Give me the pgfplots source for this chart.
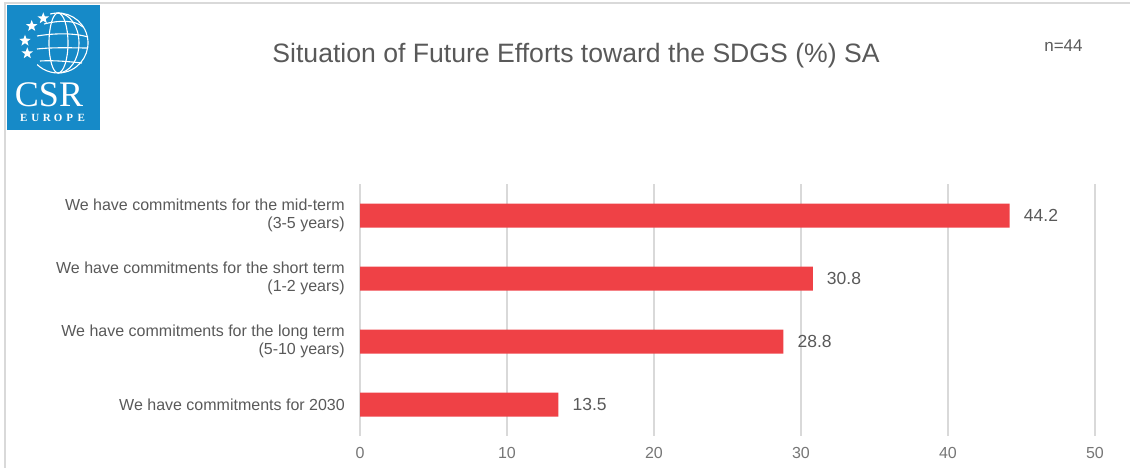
\documentclass[border=0pt]{standalone}
\usepackage{pgfplots}
\pgfplotsset{compat=1.18}
\usetikzlibrary{shapes.geometric}
\usepackage{fontspec}
\setmainfont{Liberation Sans}
\newfontfamily\serifcsr{Liberation Serif}
\definecolor{barred}{RGB}{239,65,70}
\definecolor{txt}{RGB}{89,89,89}
\definecolor{ticktxt}{RGB}{118,118,118}
\definecolor{gridc}{RGB}{217,217,217}
\definecolor{logoblue}{RGB}{22,138,200}
\definecolor{framec}{RGB}{217,217,217}
\begin{document}
\begin{tikzpicture}[x=1pt,y=1pt]
\path[use as bounding box] (0,0) rectangle (1130,-468);
\draw[framec, line width=2pt] (5,-468) -- (5,-3) -- (1130,-3);
% logo
\fill[logoblue] (7,-5) rectangle (100,-130);
\begin{scope}[white, line width=1.1pt]
\draw (58,-43) ++(105:30) arc[start angle=105, end angle=-134, radius=30];
\draw (58,-13) arc[start angle=90, end angle=-90, x radius=10, y radius=30];
\draw (58,-13) arc[start angle=90, end angle=-90, x radius=21, y radius=30];
\draw (58,-13) arc[start angle=90, end angle=270, x radius=9, y radius=30];
\draw (44,-24) .. controls (60,-20) and (75,-20) .. (83,-27);
\draw (37,-36) .. controls (55,-33) and (75,-33) .. (88,-37);
\draw (37,-49) .. controls (55,-47) and (75,-48) .. (88,-48);
\draw (40,-61) .. controls (55,-60) and (72,-62) .. (82,-63);
\end{scope}
\foreach \p in {(43.3,-18.3),(31.7,-26),(25,-40.7),(27.3,-53.3)}
  \node[star, star points=5, star point ratio=2.4, fill=white, inner sep=0pt, minimum size=12pt] at \p {};
\node[white, anchor=base, inner sep=0pt, font=\serifcsr\fontsize{36}{40}\selectfont] at (49,-107) {CSR};
\foreach \l [count=\i] in {E,U,R,O,P,E}
  \node[white, anchor=base, inner sep=0pt, font=\serifcsr\bfseries\fontsize{11}{12}\selectfont] at ({18+(\i-0.5)*11.5},-122) {\l};
% titles
\node[txt, anchor=base, inner sep=0pt, font=\fontsize{26.6}{30}\selectfont] at (576,-63) {Situation of Future Efforts toward the SDGS (\%) SA};
\node[txt, anchor=base, inner sep=0pt, font=\fontsize{17}{20}\selectfont] at (1063.5,-51.7) {n=44};
\begin{axis}[
  at={(360pt,-436pt)}, anchor=south west,
  scale only axis, width=735pt, height=252pt,
  xbar, bar width=24pt,
  xmin=0, xmax=50, ymin=-0.5, ymax=3.5, y dir=reverse,
  xtick={0,10,20,30,40,50},
  ytick={0,1,2,3},
  yticklabels={{We have commitments for the mid-term\\(3-5 years)},
               {We have commitments for the short term\\(1-2 years)},
               {We have commitments for the long term\\(5-10 years)},
               {We have commitments for 2030}},
  xmajorgrids, grid style={gridc, line width=1.2pt},
  axis line style={draw=none},
  major tick length=0pt,
  /pgf/number format/assume math mode=true,
  xticklabel style={ticktxt, font=\fontsize{16}{18}\selectfont, inner sep=0pt, anchor=base, yshift=-22pt},
  yticklabel style={txt, font=\fontsize{16}{18.5}\selectfont, align=right, inner sep=0pt, anchor=east, xshift=-15pt},
  nodes near coords,
  every node near coord/.append style={txt, font=\fontsize{17.5}{20}\selectfont, inner sep=0pt, anchor=west, xshift=14pt},
  clip=false,
]
\addplot[fill=barred, draw=none] coordinates {(44.2,0) (30.8,1) (28.8,2) (13.5,3)};
\end{axis}
\end{tikzpicture}
\end{document}
